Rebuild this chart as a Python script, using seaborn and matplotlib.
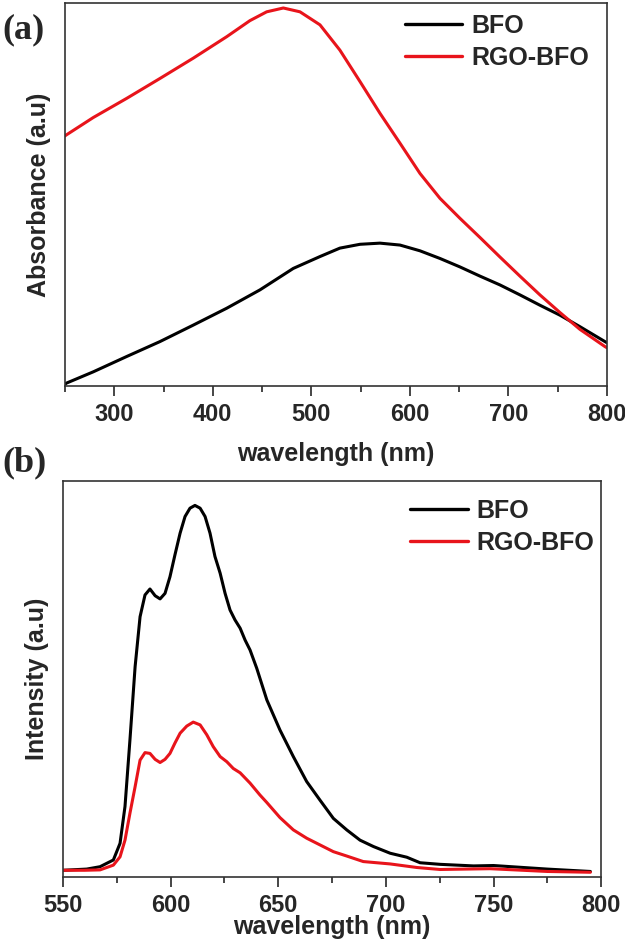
import pandas as pd
import seaborn as sns
import matplotlib.pyplot as plt
from matplotlib.ticker import MultipleLocator

# (a) UV-vis absorbance (arbitrary units)
abs_wl_bfo = [250, 251, 278.7, 312.6, 346.4, 380.2, 414.1, 447.9, 481.7, 508.8, 529,
              549.4, 569.7, 590, 610.3, 630.6, 650.8, 671.1, 691.4, 711.7, 732,
              752.3, 772.6, 798, 800]
abs_bfo = [0.004, 0.007, 0.037, 0.077, 0.116, 0.159, 0.203, 0.251, 0.307, 0.338,
           0.360, 0.370, 0.373, 0.368, 0.353, 0.333, 0.311, 0.287, 0.264, 0.238,
           0.211, 0.185, 0.155, 0.116, 0.113]
abs_wl_rgo = [250, 251, 278.7, 312.6, 346.4, 380.2, 414.1, 437.7, 454.7, 471.6, 488.5,
              508.8, 529, 549.4, 569.7, 590, 610.3, 630.6, 650.8, 671.1, 691.4,
              711.7, 732, 752.3, 772.6, 798, 800]
abs_rgo = [0.653, 0.655, 0.701, 0.751, 0.803, 0.856, 0.912, 0.954, 0.977, 0.987,
           0.977, 0.943, 0.877, 0.795, 0.712, 0.634, 0.555, 0.490, 0.438, 0.388,
           0.337, 0.287, 0.238, 0.192, 0.148, 0.103, 0.100]

# (b) photoluminescence intensity
pl_wl_bfo = [550, 561, 567.2, 573.4, 576.5, 578.8, 581.1, 583.5, 585.8, 588.1, 590.4,
             592.8, 595.1, 597.4, 599.7, 602, 604.4, 606.7, 609, 611.3, 613.7, 616,
             618.3, 620.6, 623, 625.3, 627.6, 629.9, 632.3, 634.6, 636.9, 640,
             644.7, 650.8, 657, 663.2, 669.4, 675.6, 681.8, 688, 694.2, 702, 709.7,
             715.9, 725.2, 740.7, 750, 775, 795]
pl_bfo = [0.017, 0.020, 0.026, 0.043, 0.085, 0.178, 0.346, 0.531, 0.657, 0.712,
          0.727, 0.710, 0.702, 0.716, 0.758, 0.813, 0.868, 0.910, 0.931, 0.938,
          0.931, 0.910, 0.868, 0.809, 0.767, 0.716, 0.674, 0.649, 0.628, 0.598,
          0.573, 0.527, 0.447, 0.371, 0.304, 0.241, 0.194, 0.148, 0.119, 0.093,
          0.077, 0.060, 0.050, 0.036, 0.032, 0.028, 0.029, 0.020, 0.014]
pl_wl_rgo = [550, 560, 567.2, 573.4, 576.5, 578.8, 581.1, 583.5, 585.8, 588.1, 590.4,
             592.8, 595.1, 597.4, 599.7, 602, 604.4, 607.5, 610.5, 613.7, 616.8,
             619.8, 623, 626.1, 629.1, 632.3, 636.9, 641.5, 644.7, 650.8, 657,
             663.2, 669.4, 675.6, 681.8, 689.5, 702, 714.4, 725.2, 748.4, 775, 795]
pl_rgo = [0.017, 0.017, 0.018, 0.030, 0.051, 0.093, 0.161, 0.228, 0.295, 0.314,
          0.312, 0.297, 0.289, 0.297, 0.312, 0.338, 0.363, 0.381, 0.391, 0.384,
          0.359, 0.329, 0.304, 0.291, 0.274, 0.263, 0.237, 0.207, 0.188, 0.150,
          0.119, 0.098, 0.081, 0.064, 0.053, 0.039, 0.033, 0.024, 0.019, 0.021,
          0.014, 0.012]

samples = ["BFO", "RGO-BFO"]
colors = {"BFO": "black", "RGO-BFO": "#e8141b"}

df_abs = pd.concat([
    pd.DataFrame({"wavelength": abs_wl_bfo, "value": abs_bfo, "sample": "BFO"}),
    pd.DataFrame({"wavelength": abs_wl_rgo, "value": abs_rgo, "sample": "RGO-BFO"}),
])
df_pl = pd.concat([
    pd.DataFrame({"wavelength": pl_wl_bfo, "value": pl_bfo, "sample": "BFO"}),
    pd.DataFrame({"wavelength": pl_wl_rgo, "value": pl_rgo, "sample": "RGO-BFO"}),
])

sns.set_style("ticks")
plt.rcParams["font.family"] = ["Liberation Sans", "DejaVu Sans"]
plt.rcParams["font.weight"] = "bold"

fig = plt.figure(figsize=(6.25, 9.41), dpi=100)
ax_a = fig.add_axes([0.104, 0.5898, 0.867, 0.407])
ax_b = fig.add_axes([0.1008, 0.068, 0.861, 0.421])


def style_axis(ax, ylabel, xmajor, xminor, xlim, labelpad_x, leg_anchor):
    ax.set_xlim(*xlim)
    ax.set_ylim(0, 1.0)
    ax.xaxis.set_major_locator(MultipleLocator(xmajor))
    ax.xaxis.set_minor_locator(MultipleLocator(xminor))
    ax.set_yticks([])
    ax.tick_params(axis="x", which="major", length=7, width=1.2, direction="out",
                   labelsize=17, pad=5)
    ax.tick_params(axis="x", which="minor", length=4, width=1.2, direction="out")
    for lab in ax.get_xticklabels():
        lab.set_fontweight("bold")
    for s in ax.spines.values():
        s.set_visible(True)
        s.set_linewidth(1.2)
        s.set_color("#333333")
    ax.set_xlabel("wavelength (nm)", fontsize=18, fontweight="bold", labelpad=labelpad_x)
    ax.set_ylabel(ylabel, fontsize=18, fontweight="bold", labelpad=10)
    leg = ax.legend(loc="upper left", bbox_to_anchor=leg_anchor, frameon=False,
                    fontsize=18, handlelength=2.3, handletextpad=0.35,
                    labelspacing=0.33, borderpad=0, borderaxespad=0)
    for t in leg.get_texts():
        t.set_fontweight("bold")
    for h in leg.get_lines():
        h.set_linewidth(2.4)


sns.lineplot(data=df_abs, x="wavelength", y="value", hue="sample", hue_order=samples,
             palette=colors, linewidth=2.2, ax=ax_a, estimator=None, sort=True)
style_axis(ax_a, "Absorbance (a.u)", 100, 50, (250, 800), 12, (0.627, 0.972))

sns.lineplot(data=df_pl, x="wavelength", y="value", hue="sample", hue_order=samples,
             palette=colors, linewidth=2.2, ax=ax_b, estimator=None, sort=True)
style_axis(ax_b, "Intensity (a.u)", 50, 25, (550, 800), -1, (0.645, 0.955))

fig.text(0.003, 0.968, "(a)", fontsize=26, fontweight="bold",
         family=["Liberation Serif", "DejaVu Serif"], va="center")
fig.text(0.003, 0.508, "(b)", fontsize=26, fontweight="bold",
         family=["Liberation Serif", "DejaVu Serif"], va="center")

fig.savefig("out.png", dpi=100)
